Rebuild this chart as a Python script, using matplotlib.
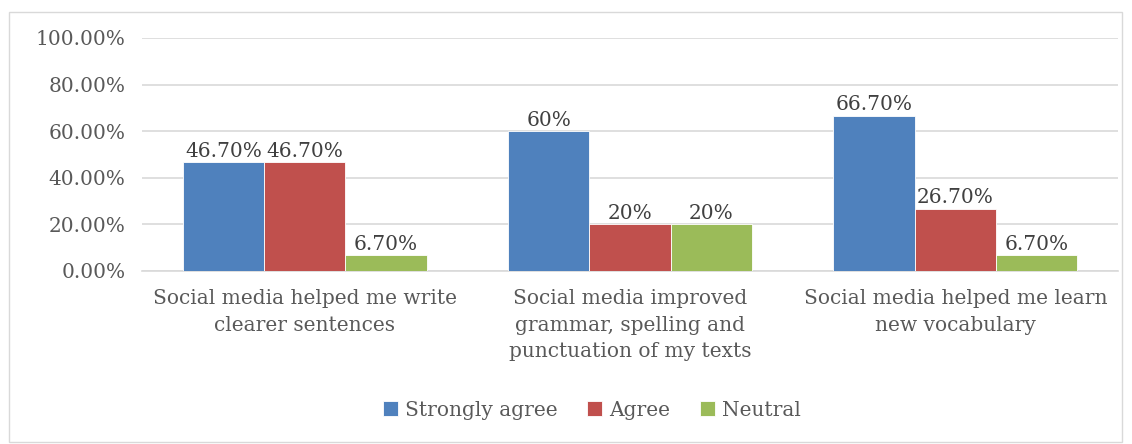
import matplotlib.pyplot as plt
import numpy as np
from matplotlib.patches import Rectangle

categories = [
    "Social media helped me write\nclearer sentences",
    "Social media improved\ngrammar, spelling and\npunctuation of my texts",
    "Social media helped me learn\nnew vocabulary",
]
series_names = ["Strongly agree", "Agree", "Neutral"]
strongly_agree = [46.7, 60.0, 66.7]
agree = [46.7, 20.0, 26.7]
neutral = [6.7, 20.0, 6.7]
value_labels = [
    ["46.70%", "60%", "66.70%"],
    ["46.70%", "20%", "26.70%"],
    ["6.70%", "20%", "6.70%"],
]
y_ticks = [0, 20, 40, 60, 80, 100]
y_tick_labels = ["0.00%", "20.00%", "40.00%", "60.00%", "80.00%", "100.00%"]

colors = ["#4f81bd", "#c0504d", "#9bbb59"]
text_color = "#595959"
fs = 14.5
plt.rcParams["font.family"] = ["DejaVu Serif"]

fig = plt.figure(figsize=(11.32, 4.44), dpi=100)
fig.patches.append(Rectangle((9 / 1132, 2 / 444), 1113 / 1132, 430 / 444,
                             transform=fig.transFigure, fill=False,
                             edgecolor="#d9d9d9", linewidth=1.0))
ax = fig.add_axes([142 / 1132, 1 - 271 / 444, 976 / 1132, 233 / 444])

x = np.arange(len(categories))
width = 0.25
all_series = [strongly_agree, agree, neutral]
for i, (vals, name, col) in enumerate(zip(all_series, series_names, colors)):
    pos = x + (i - 1) * width
    bars = ax.bar(pos, vals, width, color=col, label=name, zorder=3,
                  edgecolor="white", linewidth=0.6)
    for b, lab in zip(bars, value_labels[i]):
        ax.text(b.get_x() + b.get_width() / 2, b.get_height() + 0.6, lab,
                ha="center", va="bottom", fontsize=fs, color="#404040")

ax.set_xlim(-0.5, len(categories) - 0.5)
ax.set_ylim(0, 100)
ax.set_yticks(y_ticks)
ax.set_yticklabels(y_tick_labels, fontsize=fs, color=text_color)
ax.set_xticks(x)
ax.set_xticklabels(categories, fontsize=fs, color=text_color, linespacing=1.5)
ax.tick_params(axis="both", length=0)
ax.tick_params(axis="y", pad=12)
ax.tick_params(axis="x", pad=13)
ax.yaxis.grid(True, color="#d9d9d9", linewidth=1.2, zorder=0)
ax.set_axisbelow(True)
for s in ["top", "right", "left"]:
    ax.spines[s].set_visible(False)
ax.spines["bottom"].set_color("#d9d9d9")
ax.spines["bottom"].set_linewidth(1.2)

leg = fig.legend(loc="center", bbox_to_anchor=(592 / 1132, 1 - 410 / 444),
                 ncol=3, frameon=False, fontsize=fs, handlelength=0.75,
                 handleheight=0.75, handletextpad=0.35, columnspacing=1.45)
for t in leg.get_texts():
    t.set_color(text_color)

fig.savefig("out.png", dpi=100)
